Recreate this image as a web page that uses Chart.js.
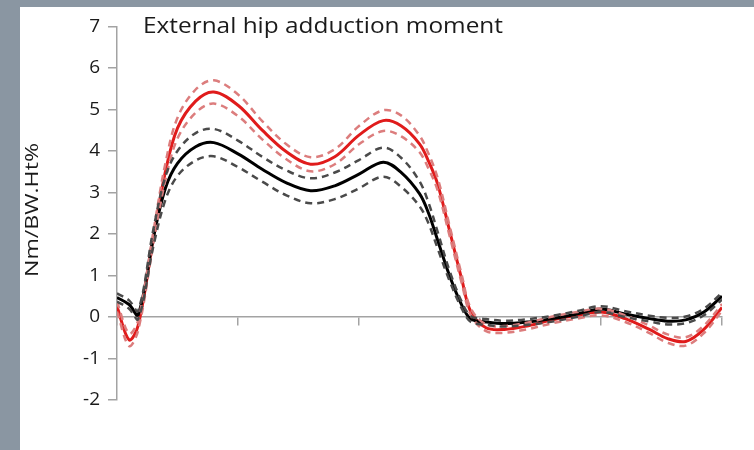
<!DOCTYPE html>
<html>
<head>
<meta charset="utf-8">
<script src="https://cdn.jsdelivr.net/npm/chart.js@4"></script>
<style>
  html, body { margin: 0; padding: 0; background: #8a96a2; }
  #panel { position: absolute; left: 20px; top: 7px; width: 734px; height: 443px; background: #fff; }
  canvas { display: block; }
</style>
</head>
<body>
<div id="panel"><canvas id="momentChart" width="734" height="443"></canvas></div>
<script>
const chartTitle = 'External hip adduction moment';
const yTitle = 'Nm/BW.Ht%';

// % of stance
const pct = [0, 2, 3.5, 6, 8, 10, 13, 16, 20, 24, 28, 32, 36, 40, 44, 47, 50, 51.5, 53, 55, 57, 58.5, 61, 64, 68, 72, 76, 80, 84, 88, 91, 94, 97, 100];

const blackMean = [0.47, 0.3, 0.05, 1.9, 3.1, 3.7, 4.1, 4.2, 3.93, 3.56, 3.23, 3.04, 3.16, 3.44, 3.73, 3.48, 2.97, 2.5, 1.85, 0.98, 0.28, -0.05, -0.12, -0.16, -0.12, -0.04, 0.07, 0.19, 0.07, -0.04, -0.1, -0.07, 0.12, 0.5];
const blackSd = [0.1, 0.1, 0.1, 0.2, 0.28, 0.3, 0.33, 0.33, 0.32, 0.3, 0.3, 0.3, 0.32, 0.34, 0.35, 0.35, 0.3, 0.25, 0.2, 0.12, 0.08, 0.07, 0.07, 0.07, 0.07, 0.07, 0.07, 0.07, 0.07, 0.07, 0.08, 0.08, 0.08, 0.08];

const redMean = [0.25, -0.55, -0.2, 1.9, 3.5, 4.55, 5.2, 5.42, 5.1, 4.5, 3.98, 3.68, 3.86, 4.38, 4.73, 4.6, 4.17, 3.75, 3.2, 2.06, 0.9, 0.12, -0.26, -0.3, -0.21, -0.07, 0.04, 0.12, -0.04, -0.3, -0.52, -0.59, -0.3, 0.23];
const redSd = [0.12, 0.15, 0.12, 0.15, 0.2, 0.25, 0.28, 0.28, 0.26, 0.22, 0.18, 0.17, 0.18, 0.22, 0.25, 0.25, 0.2, 0.18, 0.15, 0.12, 0.1, 0.08, 0.08, 0.08, 0.08, 0.08, 0.08, 0.08, 0.08, 0.09, 0.1, 0.1, 0.09, 0.08];

const toPoints = (vals, sd, sign) => pct.map((p, i) => ({ x: p, y: vals[i] + (sd ? sign * sd[i] : 0) }));

function line(data, color, width, dashed) {
    return {
        data: data,
        borderColor: color,
        borderWidth: width,
        borderDash: dashed ? [7, 5] : [],
        pointRadius: 0,
        fill: false,
        tension: 0.35
    };
}

// titles are drawn by hand so they can be stretched to the reference widths
function stretchedText(c, text, x, y, targetW, rotate) {
    const w = c.measureText(text).width;
    c.save();
    c.translate(x, y);
    if (rotate) c.rotate(-Math.PI / 2);
    c.scale(targetW / w, 1);
    c.fillText(text, rotate ? -w / 2 : 0, 0);
    c.restore();
}

const titlePlugin = {
    id: 'titles',
    afterDraw(chart) {
        const c = chart.ctx;
        c.save();
        c.fillStyle = '#1a1a1a';
        c.textBaseline = 'alphabetic';
        c.font = '22px "Open Sans", sans-serif';
        stretchedText(c, chartTitle, 123, 26, 360, false);
        c.textBaseline = 'middle';
        c.font = '19px "Open Sans", sans-serif';
        stretchedText(c, yTitle, 13, 203, 134, true);
        c.restore();
    }
};

const axisGray = '#a3a3a3';

new Chart(document.getElementById('momentChart').getContext('2d'), {
    type: 'line',
    data: {
        datasets: [
            line(toPoints(blackMean, blackSd, 1), '#4a4a4a', 2.5, true),
            line(toPoints(blackMean, blackSd, -1), '#4a4a4a', 2.5, true),
            line(toPoints(redMean, redSd, 1), '#dc7d7d', 2.5, true),
            line(toPoints(redMean, redSd, -1), '#dc7d7d', 2.5, true),
            line(toPoints(blackMean), '#000000', 3, false),
            line(toPoints(redMean), '#e01b1b', 3, false)
        ]
    },
    options: {
        responsive: false,
        animation: false,
        layout: { padding: { top: 11, bottom: 50, right: 32, left: 0 } },
        plugins: { legend: { display: false }, tooltip: { enabled: false } },
        scales: {
            x: {
                type: 'linear',
                min: 0,
                max: 100,
                position: { y: 0 },
                ticks: { display: false, stepSize: 20 },
                grid: { drawOnChartArea: false, drawTicks: true, tickLength: 8, color: axisGray, lineWidth: 1.5 },
                border: { color: axisGray, width: 1.5 }
            },
            y: {
                min: -2,
                max: 7,
                ticks: { stepSize: 1, padding: 8, color: '#1a1a1a', font: { size: 19, family: '"Open Sans", sans-serif' } },
                grid: { drawOnChartArea: false, drawTicks: true, tickLength: 9, color: axisGray, lineWidth: 1.5 },
                border: { color: axisGray, width: 1.5 },
                afterFit(scale) { scale.width = 97; }
            }
        }
    },
    plugins: [titlePlugin]
});
</script>
</body>
</html>
